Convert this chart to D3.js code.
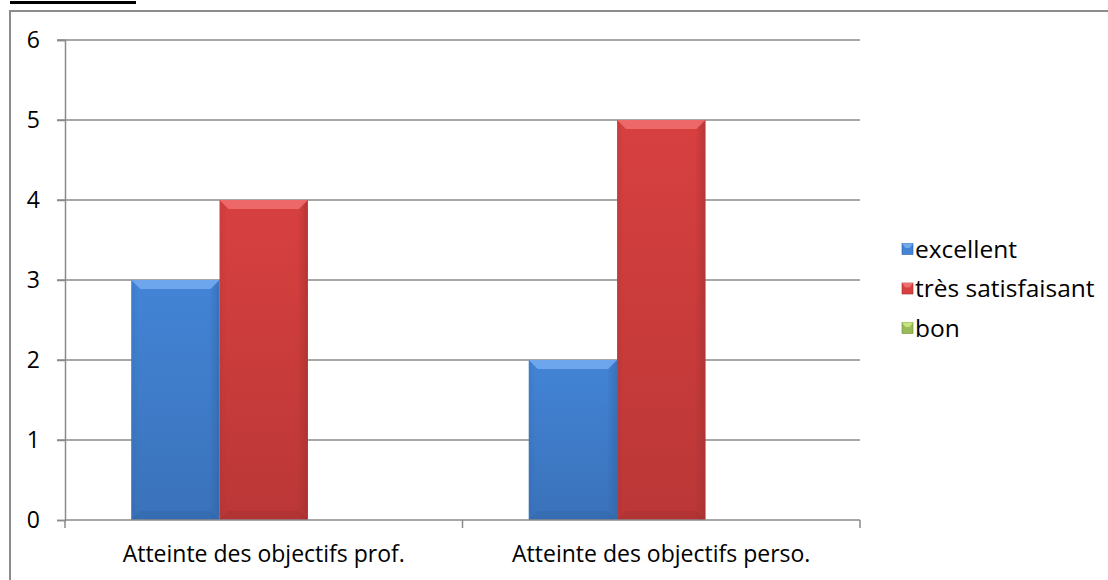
<!DOCTYPE html>
<html><head><meta charset="utf-8">
<script src="https://cdn.jsdelivr.net/npm/d3@7"></script>
<style>html,body{margin:0;padding:0;background:#fff;overflow:hidden}svg{display:block}</style>
</head><body>
<script>
const categories = ["Atteinte des objectifs prof.", "Atteinte des objectifs perso."];
const seriesNames = ["excellent", "très satisfaisant", "bon"];
const excellent = [3, 2];
const tresSatisfaisant = [4, 5];
const bon = [0, 0];
const yTicks = [0, 1, 2, 3, 4, 5, 6];
const seriesValues = [excellent, tresSatisfaisant, bon];
const colors = [
  {main:"#4384d6", light:"#72aaf0", dark:"#2c5f9f"},
  {main:"#d84040", light:"#f06d6d", dark:"#9a2c2c"},
  {main:"#9bbb59", light:"#c8e67e", dark:"#6f8a3c"}
];

const W = 1108, H = 580;
const svg = d3.select("body").append("svg").attr("width", W).attr("height", H);
const defs = svg.append("defs");
colors.forEach((c,i)=>{
  const g = defs.append("linearGradient").attr("id","g"+i).attr("x1",0).attr("x2",0).attr("y1",0).attr("y2",1);
  g.append("stop").attr("offset","0%").attr("stop-color",c.main);
  g.append("stop").attr("offset","100%").attr("stop-color",d3.color(c.main).darker(0.4));
  const h = defs.append("linearGradient").attr("id","h"+i).attr("x1",0).attr("x2",1).attr("y1",0).attr("y2",0);
  h.append("stop").attr("offset","0%").attr("stop-color",c.dark).attr("stop-opacity",0.2);
  h.append("stop").attr("offset","8%").attr("stop-color",c.dark).attr("stop-opacity",0);
  h.append("stop").attr("offset","88%").attr("stop-color",c.dark).attr("stop-opacity",0);
  h.append("stop").attr("offset","100%").attr("stop-color",c.dark).attr("stop-opacity",0.5);
});

// top fragment underline
svg.append("rect").attr("x",10).attr("y",1).attr("width",126).attr("height",3).attr("fill","#000");

// outer border
svg.append("path").attr("d","M10,"+H+" V11 H"+W).attr("fill","none").attr("stroke","#8c8c8c").attr("stroke-width",2);

const font = "'Open Sans', 'Noto Sans', sans-serif";
const x0 = d3.scaleBand().domain(categories).range([65, 860]).paddingInner(0).paddingOuter(0);
const x1 = d3.scaleBand().domain(seriesNames).range([0, x0.bandwidth()]).paddingInner(0).paddingOuter(0.75);
const y = d3.scaleLinear().domain([0, 6]).range([520, 40]);

// gridlines
svg.append("g").selectAll("line").data(yTicks.filter(d=>d>0)).join("line")
  .attr("x1",57).attr("x2",860).attr("y1",d=>y(d)).attr("y2",d=>y(d))
  .attr("stroke","#8a8a8a").attr("stroke-width",1.5);

// y axis
const yAxis = svg.append("g").attr("transform","translate(65,0)")
  .call(d3.axisLeft(y).tickValues(yTicks).tickSize(8).tickPadding(17).tickFormat(d3.format("d")));
yAxis.select(".domain").attr("stroke","#8a8a8a").attr("stroke-width",1.5);
yAxis.selectAll(".tick line").attr("stroke","#8a8a8a").attr("stroke-width",1.5);
yAxis.selectAll(".tick text").attr("font-family",font).attr("font-size",23).attr("fill","#000");

// bars
const groups = svg.append("g").selectAll("g").data(categories).join("g")
  .attr("transform",d=>`translate(${x0(d)},0)`);
groups.each(function(cat, ci){
  const g = d3.select(this);
  seriesNames.forEach((s, si)=>{
    const v = seriesValues[si][ci];
    if (!v) return;
    const bx = x1(s), bw = x1.bandwidth(), by = y(v), bh = y(0) - y(v);
    const c = colors[si];
    g.append("rect").attr("x",bx).attr("y",by).attr("width",bw).attr("height",bh).attr("fill",`url(#g${si})`);
    g.append("rect").attr("x",bx).attr("y",by).attr("width",bw).attr("height",bh).attr("fill",`url(#h${si})`);
    const b = 9;
    g.append("path").attr("d",`M${bx},${by} H${bx+bw} L${bx+bw-b},${by+b} H${bx+b} Z`).attr("fill",c.light).attr("opacity",0.9);
    g.append("path").attr("d",`M${bx},${by+bh} H${bx+bw} L${bx+bw-b},${by+bh-b} H${bx+b} Z`).attr("fill",c.dark).attr("opacity",0.3);
  });
});

// x axis baseline and ticks
svg.append("line").attr("x1",65).attr("x2",860).attr("y1",520).attr("y2",520).attr("stroke","#8a8a8a").attr("stroke-width",1.5);
const xb = [x0(categories[0]), x0(categories[1]), x0(categories[1])+x0.bandwidth()];
svg.append("g").selectAll("line").data(xb).join("line")
  .attr("x1",d=>d).attr("x2",d=>d).attr("y1",520).attr("y2",528).attr("stroke","#8a8a8a").attr("stroke-width",1.5);
svg.append("g").selectAll("text").data(categories).join("text")
  .attr("x",d=>x0(d)+x0.bandwidth()/2).attr("y",562).attr("text-anchor","middle")
  .attr("font-family",font).attr("font-size",23).attr("fill","#000").text(d=>d);

// legend
const leg = svg.append("g").selectAll("g").data(seriesNames).join("g")
  .attr("transform",(d,i)=>`translate(902,${249 + i*39.5})`);
leg.append("rect").attr("x",0).attr("y",-5.5).attr("width",11).attr("height",11).attr("fill",(d,i)=>colors[i].main).attr("stroke",(d,i)=>colors[i].dark).attr("stroke-width",0.6);
leg.append("path").attr("d","M0,-5.5 H11 L7.5,-1 H3.5 Z").attr("fill",(d,i)=>colors[i].light);
leg.append("text").attr("x",13).attr("y",8.5).attr("font-family",font).attr("font-size",24.5).attr("fill","#000").text(d=>d);
</script>
</body></html>
